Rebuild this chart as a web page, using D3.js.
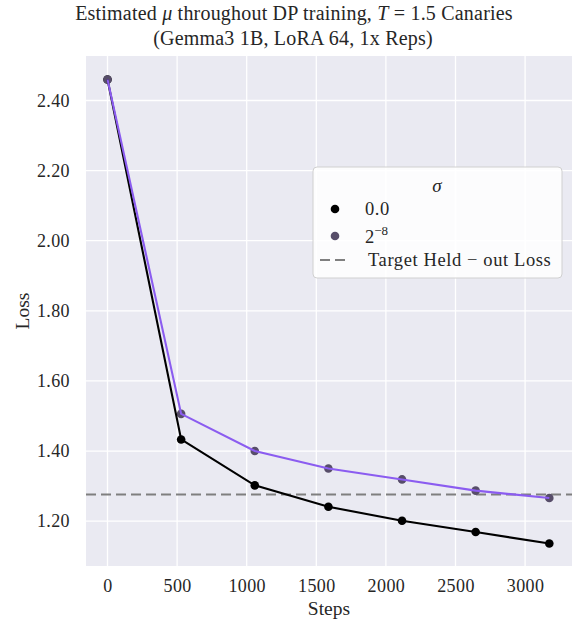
<!DOCTYPE html>
<html>
<head>
<meta charset="utf-8">
<script src="https://cdn.jsdelivr.net/npm/d3@7"></script>
<style>
  body { margin: 0; background: #fff; }
  svg text { font-family: "Liberation Serif", "DejaVu Serif", serif; fill: #262626; }
</style>
</head>
<body>
<div id="chart"></div>
<script>
// data
const steps = [0, 529, 1058, 1587, 2116, 2645, 3174];
const lossSigma0 = [2.46, 1.433, 1.302, 1.241, 1.201, 1.169, 1.136];
const lossSigma8 = [2.46, 1.506, 1.400, 1.350, 1.319, 1.287, 1.266];
const targetLoss = 1.276;
const xTicks = [0, 500, 1000, 1500, 2000, 2500, 3000];
const yTicks = [1.2, 1.4, 1.6, 1.8, 2.0, 2.2, 2.4];

const width = 581;
const height = 624;
const margin = { top: 56, right: 9, bottom: 58, left: 86 };

const svg = d3.select('#chart')
  .append('svg')
  .attr('width', width)
  .attr('height', height);

const x = d3.scaleLinear()
  .domain([-154.5, 3337])
  .range([margin.left, width - margin.right]);

const y = d3.scaleLinear()
  .domain([1.072, 2.527])
  .range([height - margin.bottom, margin.top]);

// background
svg.append('rect')
  .attr('x', margin.left)
  .attr('y', margin.top)
  .attr('width', width - margin.left - margin.right)
  .attr('height', height - margin.top - margin.bottom)
  .attr('fill', '#eaeaf2');

// grid
svg.append('g')
  .selectAll('line')
  .data(xTicks)
  .enter()
  .append('line')
  .attr('x1', d => x(d)).attr('x2', d => x(d))
  .attr('y1', margin.top).attr('y2', height - margin.bottom)
  .attr('stroke', '#fff').attr('stroke-width', 1.3);

svg.append('g')
  .selectAll('line')
  .data(yTicks)
  .enter()
  .append('line')
  .attr('x1', margin.left).attr('x2', width - margin.right)
  .attr('y1', d => y(d)).attr('y2', d => y(d))
  .attr('stroke', '#fff').attr('stroke-width', 1.3);

// axes (labels only, no ticks / spines)
const xAxis = svg.append('g')
  .attr('transform', `translate(0,${height - margin.bottom})`)
  .call(d3.axisBottom(x).tickValues(xTicks).tickSize(0).tickPadding(13).tickFormat(d3.format('d')));
const yAxis = svg.append('g')
  .attr('transform', `translate(${margin.left},0)`)
  .call(d3.axisLeft(y).tickValues(yTicks).tickSize(0).tickPadding(16).tickFormat(d3.format('.2f')));

[xAxis, yAxis].forEach(a => {
  a.select('.domain').remove();
  a.selectAll('text')
    .style('font-family', '"Liberation Serif", serif')
    .style('font-size', '18px')
    .style('letter-spacing', '0.4px')
    .attr('fill', '#262626');
});

// target line
svg.append('line')
  .attr('x1', margin.left).attr('x2', width - margin.right)
  .attr('y1', y(targetLoss)).attr('y2', y(targetLoss))
  .attr('stroke', '#7f7f7f')
  .attr('stroke-width', 2.2)
  .attr('stroke-dasharray', '10,5');

const line = d3.line()
  .x(d => x(d[0]))
  .y(d => y(d[1]));

const series = [
  { values: lossSigma0, line: '#000000', marker: '#000000' },
  { values: lossSigma8, line: '#8b5cf0', marker: '#574d69' }
];

series.forEach(s => {
  svg.append('g')
    .selectAll('circle')
    .data(steps.map((st, i) => [st, s.values[i]]))
    .enter()
    .append('circle')
    .attr('cx', d => x(d[0]))
    .attr('cy', d => y(d[1]))
    .attr('r', 4.3)
    .attr('fill', s.marker);
});

series.forEach(s => {
  svg.append('path')
    .datum(steps.map((st, i) => [st, s.values[i]]))
    .attr('d', line)
    .attr('fill', 'none')
    .attr('stroke', s.line)
    .attr('stroke-width', 2.1);
});

// title
const title = svg.append('text')
  .attr('x', 294)
  .attr('y', 20)
  .attr('text-anchor', 'middle')
  .style('font-size', '20px')
  .style('letter-spacing', '0.2px');
title.append('tspan').text('Estimated ');
title.append('tspan').attr('font-style', 'italic').text('μ');
title.append('tspan').text(' throughout DP training,  ');
title.append('tspan').attr('font-style', 'italic').text('T');
title.append('tspan').text(' = 1.5 Canaries');

svg.append('text')
  .attr('x', 293)
  .attr('y', 45)
  .attr('text-anchor', 'middle')
  .style('font-size', '20px')
  .style('letter-spacing', '0.2px')
  .text('(Gemma3 1B,  LoRA 64,  1x Reps)');

// axis titles
svg.append('text')
  .attr('x', (margin.left + width - margin.right) / 2)
  .attr('y', 615)
  .attr('text-anchor', 'middle')
  .style('font-size', '19.5px')
  .text('Steps');

svg.append('text')
  .attr('transform', `translate(29,${(margin.top + height - margin.bottom) / 2}) rotate(-90)`)
  .attr('text-anchor', 'middle')
  .style('font-size', '19.5px')
  .text('Loss');

// legend
const lg = svg.append('g').attr('transform', 'translate(313,167)');
lg.append('rect')
  .attr('width', 249)
  .attr('height', 111)
  .attr('rx', 4)
  .attr('fill', '#fff')
  .attr('fill-opacity', 0.85)
  .attr('stroke', '#d0d0d0');

lg.append('text')
  .attr('x', 124)
  .attr('y', 25)
  .attr('text-anchor', 'middle')
  .style('font-size', '19px')
  .attr('font-style', 'italic')
  .text('σ');

const legendText = { 'font-size': '18.5px', 'letter-spacing': '0.6px' };

lg.append('circle').attr('cx', 22).attr('cy', 42).attr('r', 4.3).attr('fill', series[0].marker);
lg.append('text').attr('x', 52).attr('y', 48)
  .style('font-size', legendText['font-size']).style('letter-spacing', legendText['letter-spacing'])
  .text('0.0');

lg.append('circle').attr('cx', 22).attr('cy', 69).attr('r', 4.3).attr('fill', series[1].marker);
const sup = lg.append('text').attr('x', 52).attr('y', 76).style('font-size', legendText['font-size']);
sup.append('tspan').text('2');
sup.append('tspan').attr('dy', -8).style('font-size', '13px').text('−8');

lg.append('line')
  .attr('x1', 7).attr('x2', 37)
  .attr('y1', 93).attr('y2', 93)
  .attr('stroke', '#7f7f7f')
  .attr('stroke-width', 2.2)
  .attr('stroke-dasharray', '10,5');
lg.append('text').attr('x', 55).attr('y', 99)
  .style('font-size', legendText['font-size']).style('letter-spacing', legendText['letter-spacing'])
  .text('Target Held − out Loss');
</script>
</body>
</html>
